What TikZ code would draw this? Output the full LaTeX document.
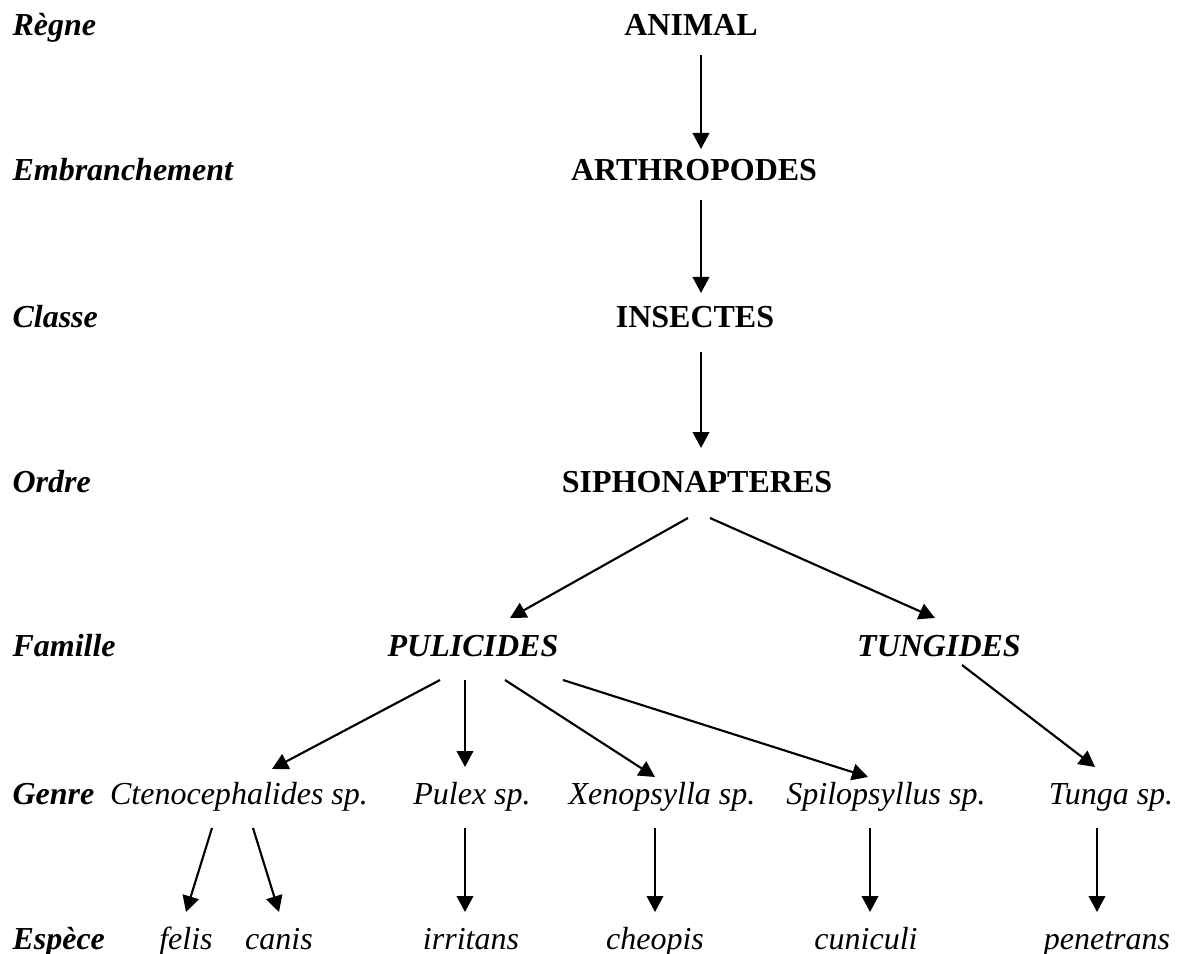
\documentclass[tikz,border=0pt]{standalone}
\usepackage{fontspec}
\setmainfont{Liberation Serif}
\usetikzlibrary{arrows.meta}

\begin{document}
\begin{tikzpicture}[
    x=0.375pt, y=-0.375pt,
    rankname/.style={anchor=base west, inner sep=0pt, font=\fontsize{12}{14}\selectfont\bfseries\itshape},
    upper/.style={anchor=base, inner sep=0pt, font=\fontsize{12}{14}\selectfont\bfseries},
    family/.style={anchor=base, inner sep=0pt, font=\fontsize{12}{14}\selectfont\bfseries\itshape},
    genus/.style={anchor=base, inner sep=0pt, font=\fontsize{12}{14}\selectfont\itshape},
    arr/.style={-{Triangle[length=6pt,width=6.2pt]}, line width=0.8pt}
]
\useasboundingbox (0,0) rectangle (1179,954);
\node[rankname] (r1) at (12,36) {Règne};
\node[rankname] (r2) at (12,181) {Embranchement};
\node[rankname] (r3) at (12,328) {Classe};
\node[rankname] (r4) at (12,492) {Ordre};
\node[rankname] (r5) at (12,656) {Famille};
\node[rankname] (r6) at (12,804) {Genre};
\node[rankname] (r7) at (12,949) {Espèce};
\node[upper] (animal) at (691,36) {ANIMAL};
\node[upper] (arthro) at (694,181) {ARTHROPODES};
\node[upper] (insect) at (695,328) {INSECTES};
\node[upper] (siphon) at (697,492) {SIPHONAPTERES};
\node[family] (pulic) at (473,656) {PULICIDES};
\node[family] (tungi) at (939,656) {TUNGIDES};
\node[genus] (cteno) at (239,804) {Ctenocephalides sp.};
\node[genus] (pulex) at (472,804) {Pulex sp.};
\node[genus] (xeno) at (662,804) {Xenopsylla sp.};
\node[genus] (spilo) at (886,804) {Spilopsyllus sp.};
\node[genus] (tunga) at (1111,804) {Tunga sp.};
\node[genus] (felis) at (186,949) {felis};
\node[genus] (canis) at (279,949) {canis};
\node[genus] (irrit) at (471,949) {irritans};
\node[genus] (cheop) at (655,949) {cheopis};
\node[genus] (cunic) at (866,949) {cuniculi};
\node[genus] (penet) at (1107,949) {penetrans};
\draw[arr] ([shift={(10,19)}]animal.base) -- ([shift={(7,-32)}]arthro.base);
\draw[arr] ([shift={(7,19)}]arthro.base) -- ([shift={(6,-35)}]insect.base);
\draw[arr] ([shift={(6,24)}]insect.base) -- ([shift={(4,-44)}]siphon.base);
\draw[arr] ([shift={(-9,26)}]siphon.base) -- ([shift={(37,-38)}]pulic.base);
\draw[arr] ([shift={(13,26)}]siphon.base) -- ([shift={(-4,-38)}]tungi.base);
\draw[arr] ([shift={(-33,24)}]pulic.base) -- ([shift={(33,-35)}]cteno.base);
\draw[arr] ([shift={(-8,24)}]pulic.base) -- ([shift={(-7,-37)}]pulex.base);
\draw[arr] ([shift={(32,24)}]pulic.base) -- ([shift={(-7,-27)}]xeno.base);
\draw[arr] ([shift={(90,24)}]pulic.base) -- ([shift={(-18,-27)}]spilo.base);
\draw[arr] ([shift={(23,9)}]tungi.base) -- ([shift={(-16,-37)}]tunga.base);
\draw[arr] ([shift={(-27,24)}]cteno.base) -- ([shift={(0,-37)}]felis.base);
\draw[arr] ([shift={(14,24)}]cteno.base) -- ([shift={(0,-37)}]canis.base);
\draw[arr] ([shift={(-7,24)}]pulex.base) -- ([shift={(-6,-37)}]irrit.base);
\draw[arr] ([shift={(-7,24)}]xeno.base) -- ([shift={(0,-37)}]cheop.base);
\draw[arr] ([shift={(-16,24)}]spilo.base) -- ([shift={(4,-37)}]cunic.base);
\draw[arr] ([shift={(-14,24)}]tunga.base) -- ([shift={(-10,-37)}]penet.base);
\end{tikzpicture}
\end{document}
